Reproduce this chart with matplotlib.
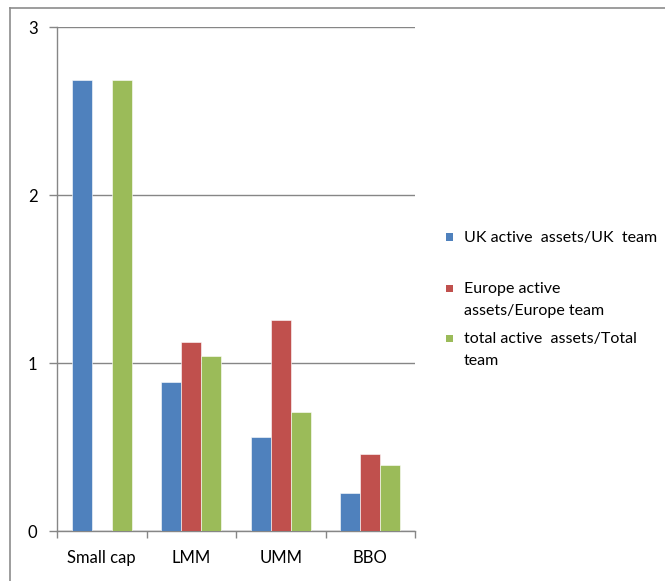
import matplotlib
matplotlib.use('Agg')
import matplotlib.pyplot as plt
import numpy as np
from matplotlib.lines import Line2D
from matplotlib.patches import Rectangle

plt.rcParams['font.family'] = ['Lato', 'DejaVu Sans']

categories = ['Small cap', 'LMM', 'UMM', 'BBO']
uk_values = [2.685, 0.887, 0.558, 0.225]
europe_values = [0.0, 1.125, 1.253, 0.459]
total_values = [2.685, 1.043, 0.710, 0.393]
series_names = ['UK active  assets/UK  team',
                'Europe active\nassets/Europe team',
                'total active  assets/Total\nteam']
colors = ['#4F81BD', '#C0504D', '#9BBB59']
grid_color = '#868686'

W, H = 665, 581
fig = plt.figure(figsize=(W / 100, H / 100), dpi=100)
ax = fig.add_axes([57 / W, 50 / H, 358 / W, 504 / H])

x = np.arange(len(categories))
width = 0.223
for i, (vals, c) in enumerate(zip([uk_values, europe_values, total_values], colors)):
    ax.bar(x + (i - 1) * width, vals, width, color=c, zorder=3,
           edgecolor='white', linewidth=0.4)

ax.set_xlim(-0.5, len(categories) - 0.5)
ax.set_ylim(0, 3)
ax.set_yticks([0, 1, 2, 3])
ax.yaxis.grid(True, color=grid_color, linewidth=1.0, zorder=0)

# category boundary ticks, labels centred in between
ax.set_xticks(np.arange(len(categories) + 1) - 0.5)
ax.set_xticklabels([])
ax.set_xticks(x, minor=True)
ax.set_xticklabels(categories, minor=True, fontsize=12)
ax.tick_params(axis='x', which='minor', length=0, pad=14)
ax.tick_params(axis='x', which='major', length=5, color=grid_color, width=1)
ax.tick_params(axis='y', length=6, color=grid_color, width=1, pad=8, labelsize=12)

for s in ['top', 'right']:
    ax.spines[s].set_visible(False)
for s in ['left', 'bottom']:
    ax.spines[s].set_color(grid_color)
    ax.spines[s].set_linewidth(1.0)

# legend drawn by hand so the entry slots match the original spacing
legend_rows = [237, 288, 338]
for name, c, yc in zip(series_names, colors, legend_rows):
    fig.add_artist(Rectangle((446 / W, 1 - (yc + 3.5) / H), 7 / W, 7 / H,
                             transform=fig.transFigure, facecolor=c, edgecolor='none'))
    fig.text(464 / W, 1 - (yc - 6) / H, name, fontsize=11.5, va='top',
             ha='left', linespacing=1.7)

# outer chart border (only top and left visible in crop)
fig.add_artist(Line2D([10 / W, 1], [1 - 8 / H, 1 - 8 / H],
                      transform=fig.transFigure, color='#8c8c8c', linewidth=1.2))
fig.add_artist(Line2D([10 / W, 10 / W], [0, 1 - 8 / H],
                      transform=fig.transFigure, color='#8c8c8c', linewidth=1.2))

fig.savefig('out.png', dpi=100)
